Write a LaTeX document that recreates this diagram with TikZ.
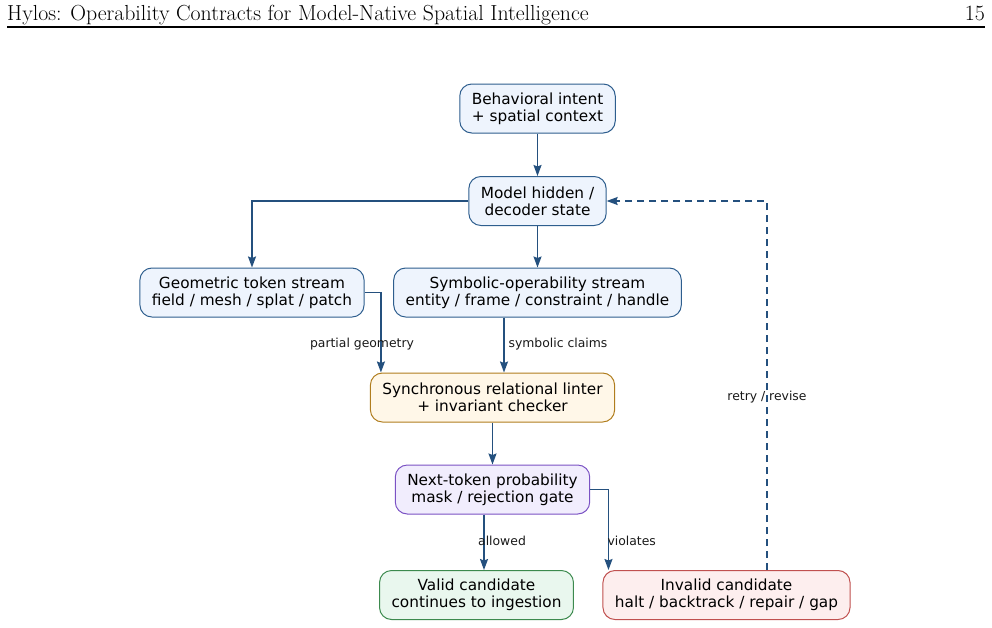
\documentclass[tikz,border=0pt]{standalone}
\usepackage{fontspec}
\newfontfamily\diagfont{DejaVu Sans}
\usetikzlibrary{arrows.meta}

\definecolor{seta}{HTML}{24507E}
\definecolor{bordaAzul}{HTML}{2E5E8E}
\definecolor{fundoAzul}{HTML}{EEF4FD}
\definecolor{bordaOuro}{HTML}{B07D1E}
\definecolor{fundoOuro}{HTML}{FFF7E8}
\definecolor{bordaRoxo}{HTML}{7B52C4}
\definecolor{fundoRoxo}{HTML}{F1EDFD}
\definecolor{bordaVerde}{HTML}{3C8A4E}
\definecolor{fundoVerde}{HTML}{E9F7EE}
\definecolor{bordaVermelho}{HTML}{C0504F}
\definecolor{fundoVermelho}{HTML}{FDEEEE}

\begin{document}
\begin{tikzpicture}[x=1pt, y=-1pt]
\tikzset{
    >={Stealth[length=11pt, width=8pt, inset=1.5pt]},
    ligacao/.style={->, draw=seta, line width=1.5pt},
    retorno/.style={->, draw=seta, line width=1.5pt, dash pattern=on 7pt off 5pt},
    caixa/.style={rectangle, rounded corners=12pt, line width=1pt, align=center,
                  inner xsep=12pt, minimum height=49pt,
                  font=\diagfont\fontsize{15.3}{17}\selectfont},
    azul/.style={caixa, draw=bordaAzul, fill=fundoAzul},
    ouro/.style={caixa, draw=bordaOuro, fill=fundoOuro},
    roxo/.style={caixa, draw=bordaRoxo, fill=fundoRoxo},
    verde/.style={caixa, draw=bordaVerde, fill=fundoVerde},
    vermelho/.style={caixa, draw=bordaVermelho, fill=fundoVermelho},
    rotulo/.style={font=\diagfont\fontsize{12.4}{14}\selectfont, text=black!90}
}
\useasboundingbox (0,0) rectangle (992,627);

% Cabeçalho da página
\node[anchor=base west, inner sep=0pt, font=\fontsize{21.8}{24}\selectfont] (titulo) at (7,20)
    {Hylos: Operability Contracts for Model-Native Spatial Intelligence};
\node[anchor=base east, inner sep=0pt, font=\fontsize{21.8}{24}\selectfont] (pagina) at (985,20) {15};
\draw[line width=1.3pt] (7,27) -- (985,27);

% Caixas
\node[azul]     (intent)  at (537.5,108.5) {Behavioral intent\\+ spatial context};
\node[azul]     (hidden)  at (537.5,201)   {Model hidden /\\decoder state};
\node[azul]     (geom)    at (252,292.5)   {Geometric token stream\\field / mesh / splat / patch};
\node[azul]     (sym)     at (537.5,292.5) {Symbolic-operability stream\\entity / frame / constraint / handle};
\node[ouro]     (linter)  at (492.5,397.5) {Synchronous relational linter\\+ invariant checker};
\node[roxo]     (mask)    at (492.5,489.5) {Next-token probability\\mask / rejection gate};
\node[verde]    (valid)   at (476.5,595)   {Valid candidate\\continues to ingestion};
\node[vermelho] (invalid) at (726.5,595)   {Invalid candidate\\halt / backtrack / repair / gap};

% Fluxo principal
\draw[ligacao] (intent) -- (hidden);
\draw[ligacao] (hidden.west) -| (geom.north);
\draw[ligacao] (hidden) -- (sym);
\draw[ligacao] (geom.east) -| ([xshift=11pt]linter.north west);
\draw[ligacao] ([xshift=-33.5pt]sym.south) -- ([xshift=11.5pt]linter.north);
\draw[ligacao] (linter) -- (mask);
\draw[ligacao] ([xshift=-8.5pt]mask.south) -- ([xshift=7.5pt]valid.north);
\draw[ligacao] (mask.east) -| ([xshift=6pt]invalid.north west);

% Retorno
\draw[retorno] ([xshift=40.5pt]invalid.north) |- (hidden.east);

% Rótulos
\node[rotulo] (lgeom)   at (362,344) {partial geometry};
\node[rotulo, anchor=west] (lsym) at (505,344) {symbolic claims};
\node[rotulo] (lallow)  at (502,541) {allowed};
\node[rotulo, anchor=west] (lviol) at (604,541) {violates};
\node[rotulo] (lretry)  at (767,397) {retry / revise};
\end{tikzpicture}
\end{document}
